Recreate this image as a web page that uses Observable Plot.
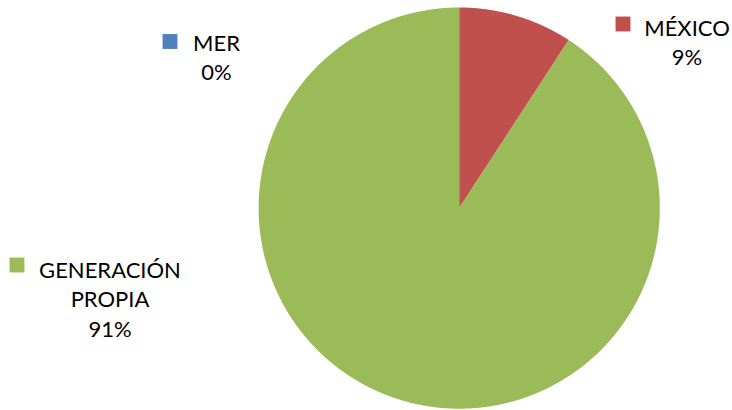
<!DOCTYPE html>
<html><head><meta charset="utf-8">
<script src="https://cdn.jsdelivr.net/npm/d3@7"></script>
<script src="https://cdn.jsdelivr.net/npm/@observablehq/plot@0.6"></script>
<style>body{margin:0;background:#fff} svg{display:block}</style>
</head><body><div id="chart"></div>
<script>
// ---- data ----
const categories = ["MER", "MÉXICO", "GENERACIÓN PROPIA"];
const values = [0, 9.2, 90.8];
const percentLabels = ["0%", "9%", "91%"];
const labelNames = ["MER", "MÉXICO", "GENERACIÓN\nPROPIA"];
const colors = ["#4F81BD", "#C0504D", "#9BBB59"];

// ---- layout ----
const W = 732, H = 410;
const cx = 458.7, cy = 207.6, R = 200.6;
const fontSize = 22, linePx = 30;
const labelX = [216, 686.5, 109.5];
const labelBaseline = [50, 35, 277];
const keyX = [169.5, 622.5, 16.5];
const keyY = [41, 23.5, 264.5];

// ---- build slice polygons from values ----
const arcs = d3.pie().sort(null).value(d => d)(values);
const slicePts = [];
arcs.forEach((a, i) => {
  const name = categories[i];
  if (a.endAngle - a.startAngle <= 0) return;
  const n = Math.max(2, Math.ceil((a.endAngle - a.startAngle) / (Math.PI / 720)));
  slicePts.push({name, px: cx, py: cy});
  for (let k = 0; k <= n; k++) {
    const t = a.startAngle + (a.endAngle - a.startAngle) * k / n;
    slicePts.push({name, px: cx + R * Math.sin(t), py: cy - R * Math.cos(t)});
  }
  slicePts.push({name, px: cx, py: cy});
});

const labels = categories.map((c, i) => ({
  name: c, x: labelX[i], y: labelBaseline[i] - 0.71 * linePx,
  text: labelNames[i] + "\n" + percentLabels[i],
  kx: keyX[i], ky: keyY[i]
}));

const chart = Plot.plot({
  width: W, height: H,
  margin: 0,
  style: {fontFamily: "Lato, 'Open Sans', sans-serif", background: "#fff"},
  x: {domain: [0, W], range: [0, W], axis: null},
  y: {domain: [0, H], range: [0, H], axis: null},
  color: {domain: categories, range: colors},
  marks: [
    Plot.line(slicePts, {x: "px", y: "py", z: "name", fill: "name", stroke: "none", curve: "linear"}),
    Plot.dot(labels, {x: "kx", y: "ky", symbol: "square", r: 8.4, fill: "name", stroke: "none"}),
    Plot.text(labels, {x: "x", y: "y", text: "text", textAnchor: "middle", lineAnchor: "top",
      fontSize: fontSize, lineHeight: linePx / fontSize, fill: "#000"})
  ]
});
document.getElementById("chart").appendChild(chart);
</script>
</body></html>
